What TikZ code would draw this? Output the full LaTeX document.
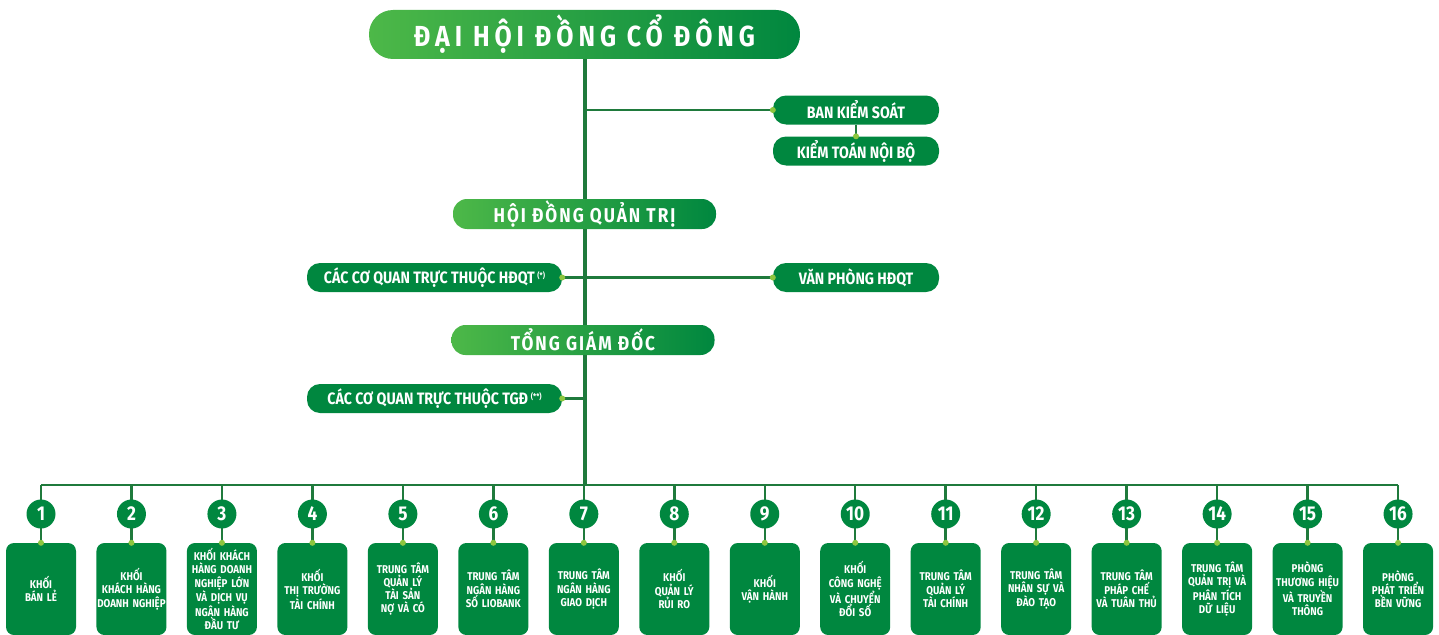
\documentclass[tikz,border=0pt]{standalone}
\usepackage{fontspec}
\setmainfont{Fira Sans}
\newfontfamily\narrowfont[FakeStretch=0.86]{Fira Sans}
\usetikzlibrary{positioning, backgrounds}

\definecolor{gDark}{HTML}{00873F}
\definecolor{gLight}{HTML}{4DB848}
\definecolor{gDot}{HTML}{8DC63F}
\definecolor{gLine}{HTML}{1F7A3C}

\begin{document}
\begin{tikzpicture}[x=1pt, y=-1pt,
    title/.style={rounded corners=24pt, left color=gLight, right color=gDark,
        text=white, inner sep=0pt, minimum width=431pt, minimum height=49pt,
        font=\narrowfont\bfseries\fontsize{29}{29}\selectfont\addfontfeature{LetterSpace=17}},
    board/.style={rounded corners=14pt, left color=gLight, right color=gDark,
        text=white, inner sep=0pt, minimum width=263pt, minimum height=30pt,
        font=\narrowfont\bfseries\fontsize{20}{20}\selectfont\addfontfeature{LetterSpace=10}},
    unit/.style={rounded corners=13pt, fill=gDark, text=white, inner sep=0pt,
        minimum width=166pt, minimum height=29pt,
        font=\narrowfont\bfseries\fontsize{16.5}{16.5}\selectfont},
    num/.style={circle, fill=gDark, text=white, inner sep=0pt, minimum size=29pt,
        font=\narrowfont\bfseries\fontsize{20}{20}\selectfont},
    dept/.style={rounded corners=8pt, fill=gDark, text=white, inner sep=0pt,
        minimum height=92pt, text width=70pt, align=center,
        font=\narrowfont\bfseries\fontsize{11.3}{13.3}\selectfont},
    branch/.style={gLine, line width=2.5pt},
    spine/.style={gLine, line width=4pt},
    dot/.style={gDot}]

    \useasboundingbox (0,0) rectangle (1439,634);
    \clip (0,0) rectangle (1439,634);

    % Top levels
    \node[title] (dhcd) at (584.5,34.5) {ĐẠI HỘI ĐỒNG CỔ ĐÔNG};
    \node[unit] (bks) at (856,110) {BAN KIỂM SOÁT};
    \node[unit] (ktnb) at (856,151) {KIỂM TOÁN NỘI BỘ};
    \node[board] (hdqt) at (584.5,214) {HỘI ĐỒNG QUẢN TRỊ};
    \node[unit, minimum width=255pt] (cqhd) at (434.5,277.5)
        {CÁC CƠ QUAN TRỰC THUỘC HĐQT\,\raisebox{5pt}{\fontsize{8}{8}\selectfont(*)}};
    \node[unit] (vp) at (856,277.5) {VĂN PHÒNG HĐQT};
    \node[board] (tgd) at (583,340) {TỔNG GIÁM ĐỐC};
    \node[unit, minimum width=255pt] (cqtg) at (434.5,398.5)
        {CÁC CƠ QUAN TRỰC THUỘC TGĐ\,\raisebox{5pt}{\fontsize{8}{8}\selectfont(**)}};

    % Departments
    \foreach \i/\txt in {1/{KHỐI\\BÁN LẺ},
        2/{KHỐI\\KHÁCH HÀNG\\DOANH NGHIỆP},
        3/{KHỐI KHÁCH\\HÀNG DOANH\\NGHIỆP LỚN\\VÀ DỊCH VỤ\\NGÂN HÀNG\\ĐẦU TƯ},
        4/{KHỐI\\THỊ TRƯỜNG\\TÀI CHÍNH},
        5/{TRUNG TÂM\\QUẢN LÝ\\TÀI SẢN\\NỢ VÀ CÓ},
        6/{TRUNG TÂM\\NGÂN HÀNG\\SỐ LIOBANK},
        7/{TRUNG TÂM\\NGÂN HÀNG\\GIAO DỊCH},
        8/{KHỐI\\QUẢN LÝ\\RỦI RO},
        9/{KHỐI\\VẬN HÀNH},
        10/{KHỐI\\CÔNG NGHỆ\\VÀ CHUYỂN\\ĐỔI SỐ},
        11/{TRUNG TÂM\\QUẢN LÝ\\TÀI CHÍNH},
        12/{TRUNG TÂM\\NHÂN SỰ VÀ\\ĐÀO TẠO},
        13/{TRUNG TÂM\\PHÁP CHẾ\\VÀ TUÂN THỦ},
        14/{TRUNG TÂM\\QUẢN TRỊ VÀ\\PHÂN TÍCH\\DỮ LIỆU},
        15/{PHÒNG\\THƯƠNG HIỆU\\VÀ TRUYỀN\\THÔNG},
        16/{PHÒNG\\PHÁT TRIỂN\\BỀN VỮNG}} {
        \pgfmathsetmacro\cx{41+(\i-1)*90.47}
        \coordinate (b\i) at (\cx,485);
        \node[num] (n\i) at (\cx,514) {\i};
        \node[dept] (d\i) at (\cx,589) {\txt};
    }

    % Connectors
    \begin{scope}[on background layer]
        \draw[spine] (dhcd.south) -- (dhcd.south |- b1);
        \draw[branch] (dhcd.south |- bks.west) -- (bks.west);
        \draw[branch] (bks.south) -- (ktnb.north);
        \draw[branch] (cqhd.east) -- (vp.west);
        \draw[branch] (cqtg.east) -- (dhcd.south |- cqtg.east);
        \draw[branch] (b1) -- (b16);
        \foreach \i in {1,...,16}
            \draw[branch] (b\i) -- (d\i.north);
    \end{scope}

    % Dots
    \foreach \p in {bks.west, ktnb.north, cqhd.east, vp.west, cqtg.east}
        \fill[dot] (\p) circle (3pt);
    \foreach \i in {1,...,16}
        \fill[dot] (d\i.north) circle (3pt);
\end{tikzpicture}
\end{document}
